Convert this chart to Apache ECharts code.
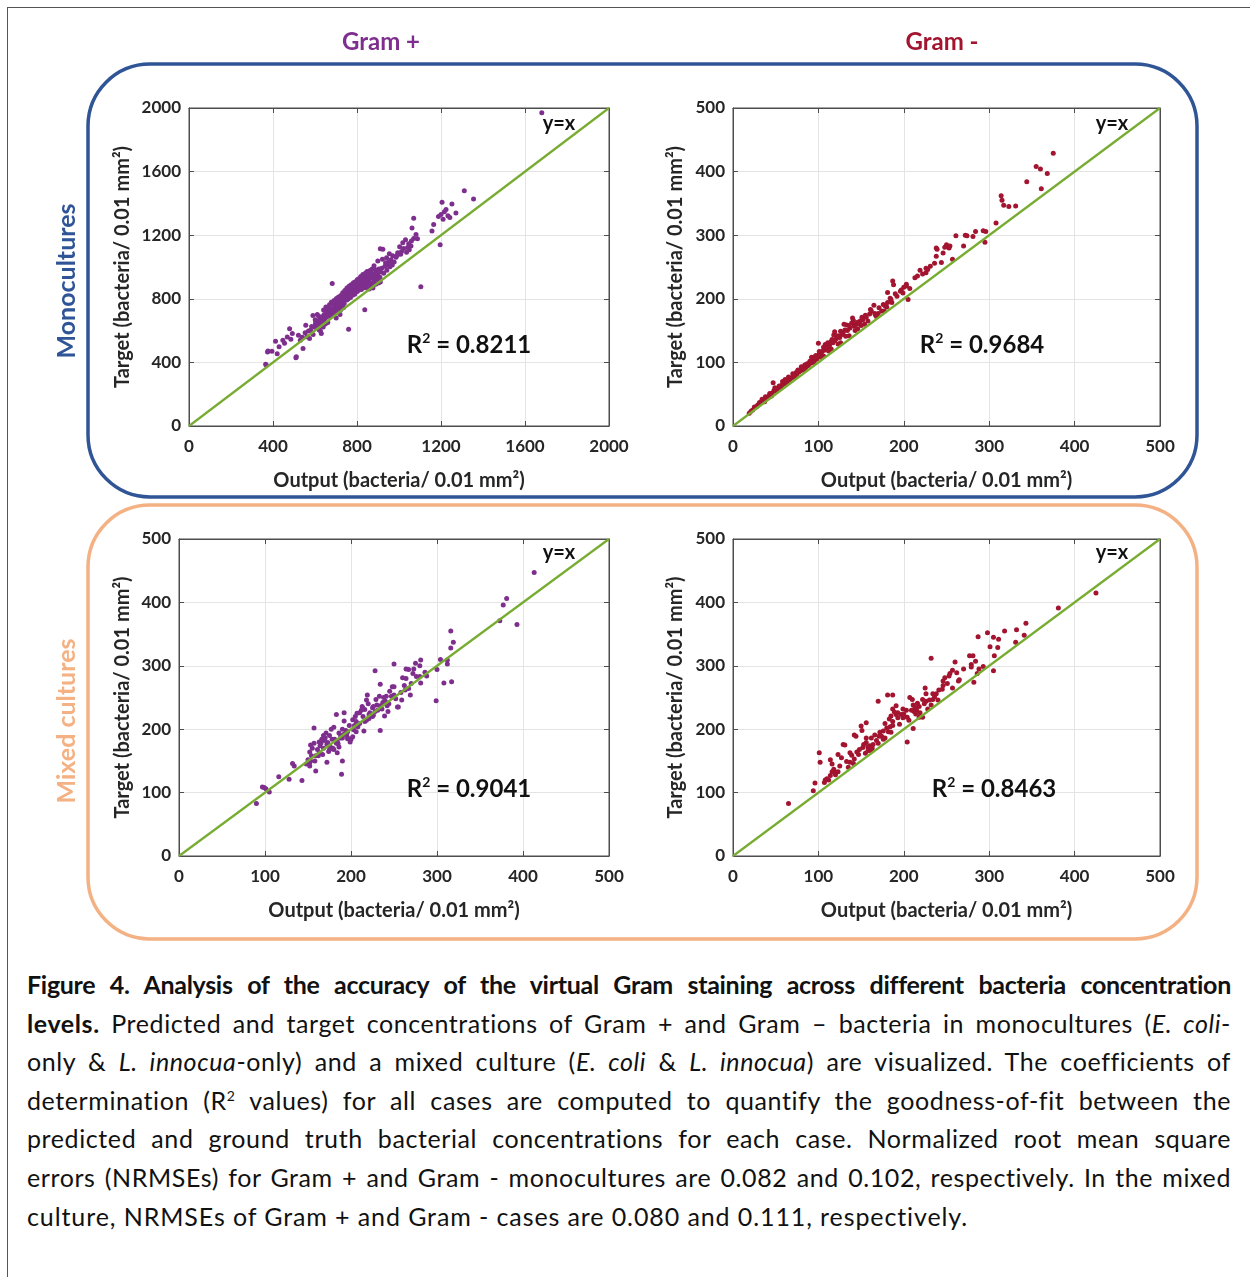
<!DOCTYPE html>
<html>
<head>
<meta charset="utf-8">
<script src="https://cdn.jsdelivr.net/npm/echarts@6/dist/echarts.min.js"></script>
<style>
  body { margin: 0; background: #fff; }
  #page { position: relative; width: 1250px; height: 1277px; overflow: hidden; }
  #frame { position: absolute; left: 7px; top: 7px; width: 1300px; height: 1300px; z-index: 2;
           pointer-events: none; border-left: 1.5px solid #555; border-top: 1.5px solid #555; }
  #chart { position: absolute; left: 0; top: 0; width: 1250px; height: 950px; }
  #caption { position: absolute; left: 27px; top: 965px; width: 1204px;
             font-family: Lato; font-size: 25px; line-height: 38.6px; color: #111; letter-spacing: 0.6px; }
  #caption div { text-align: justify; text-align-last: justify; white-space: nowrap; }
  #caption div.first { letter-spacing: -0.3px; }
  #caption div.last { text-align-last: left; letter-spacing: 0.9px; }
  #caption sup { font-size: 14px; line-height: 0; vertical-align: 9px; }
</style>
</head>
<body>
<div id="page">
  <div id="chart"></div>
  <div id="frame"></div>
  <div id="caption">
    <div class="first"><b>Figure 4. Analysis of the accuracy of the virtual Gram staining across different bacteria concentration</b></div>
    <div><b>levels.</b> Predicted and target concentrations of Gram + and Gram – bacteria in monocultures (<i>E. coli</i>-</div>
    <div>only &amp; <i>L. innocua</i>-only) and a mixed culture (<i>E. coli</i> &amp; <i>L. innocua</i>) are visualized. The coefficients of</div>
    <div>determination (R<sup>2</sup> values) for all cases are computed to quantify the goodness-of-fit between the</div>
    <div>predicted and ground truth bacterial concentrations for each case. Normalized root mean square</div>
    <div>errors (NRMSEs) for Gram + and Gram - monocultures are 0.082 and 0.102, respectively. In the mixed</div>
    <div class="last">culture, NRMSEs of Gram + and Gram - cases are 0.080 and 0.111, respectively.</div>
  </div>
</div>

<script type="text/javascript">
// [output, target] pairs
var gramPosMono = [
  [1680,1970],[1311,1479],[1355,1427],[1205,1407],[1252,1396],[1271,1340],[1224,1361],[1200,1330],[1216,1348],[1233,1322],[1188,1318],[1242,1312],[1210,1300],
  [1070,1307],[1062,1246],[1081,1205],[1070,1180],[1165,1267],[1157,1226],[1196,1140],[1104,876],
  [1018,1153],[1041,1122],[1057,1132],[994,1090],[970,1070],[923,1111],[911,1115],[1031,1171],[1049,1108],[1012,1098],[986,1062],[1003,1128],[962,1046],[941,1058],[954,1083],[977,1031],[991,1074],[1022,1117],[1046,1146],[1059,1163],[1088,1178],[1036,1093],[1008,1080],[968,1012],[948,1024],
  [933,1004],[918,992],[904,987],[927,961],[946,1011],[951,1032],[936,1026],[913,968],[898,951],[893,976],[884,986],[942,979],[957,1002],[962,1018],[889,941],[901,922],[909,936],[879,958],[868,946],[874,929],[866,966],[861,952],[851,939],[856,921],[846,931],[842,906],[836,951],[831,926],[824,902],[819,914],[814,889],[809,906],[806,881],[799,871],[796,892],[791,861],[786,876],[781,849],[776,866],[771,839],[764,831],[761,856],[754,819],[749,836],[746,811],[741,801],[736,822],[731,789],[726,806],[719,781],[714,762],[711,791],[704,771],[699,751],[694,736],[689,761],[686,741],[679,721],[676,702],[671,736],[664,711],[659,689],[656,721],[651,681],[644,701],[641,664],[636,689],[629,651],[624,671],[621,641],[616,659],[609,631],[604,654],[598,621],
  [871,899],[882,914],[892,961],[859,898],[852,881],[839,869],[829,882],[821,858],[801,846],[789,829],[779,822],[769,808],[758,799],[751,792],[739,771],[729,758],[722,753],[709,742],[701,726],[692,711],[681,699],[669,692],[841,962],[828,953],[818,941],[811,928],[802,921],[792,908],[783,901],[772,888],[762,879],[752,868],[742,852],[732,838],[723,821],[712,812],[702,802],[691,789],[862,978],[872,988],[848,972],[881,1008],[899,1038],[921,1048],[844,898],[834,882],[826,868],[816,861],[807,853],[797,848],[787,843],[777,831],[767,817],[757,806],[744,796],[734,779],[724,768],[716,774],[706,758],[696,744],[684,732],[674,716],[666,698],
  [682,897],[837,731],[760,608],[590,695],[611,702],[601,668],[479,612],[492,581],[447,539],[412,533],[376,471],[365,389],[511,435],[429,498],[543,487],[556,633],[574,550],[630,581],[368,384],[374,465],[509,430],[561,562],[539,558],[521,571],[579,602],[591,576],[619,606],[639,622],[661,651],[649,641],[626,598],[701,679],[719,702],[735,744],[869,879],[878,888],[889,891],[902,899],[911,906],[858,862],[876,868],[602,642],[584,626],[569,598],[553,586],[618,691],[641,729],[652,748],[661,741],[669,762],[678,778],[688,721],[698,714],[707,731],[721,728],[485,545],[455,520],[420,455],[395,470],[530,540],[468,560]
];

var gramNegMono = [
  [375,429],[355,408],[360,404],[368,397],[344,384],[361,373],[314,362],[315,355],[317,347],[323,345],[331,346],[308,319],[296,306],[295,289],[293,307],[284,306],[281,298],[274,299],[270,283],[272,300],[261,299],[253,280],[246,272],[238,280],[238,267],[244,257],[254,283],[257,262],[250,285],[228,246],[226,241],[216,236],[222,239],[213,233],[219,245],[226,248],[236,256],[239,278],[248,281],[231,251],[203,223],[200,218],[197,214],[205,199],[187,228],[181,210],[192,204],[181,194],[196,212],[190,208],[177,181],[165,190],[161,183],[203,220],[207,216],[199,209],[185,199],[174,181],[170,177],[167,174],[160,176],[156,171],[152,167],[149,165],[147,161],[144,160],[142,157],[139,162],[137,154],[134,150],[133,159],[129,147],[128,144],[125,139],[124,142],[121,137],[119,134],[119,148],[117,131],[115,133],[113,127],[112,125],[110,121],[109,123],[107,119],[106,124],[104,117],[103,114],[102,111],[101,113],[100,130],[99,109],[98,105],[97,111],[96,107],[95,103],[94,101],[93,106],[91,99],[90,102],[89,97],[88,95],[87,98],[86,94],[85,92],[84,96],[82,91],[81,88],[80,93],[79,87],[77,85],[76,88],[75,82],[74,84],[72,80],[71,78],[70,82],[69,76],[67,75],[66,72],[65,77],[64,71],[62,69],[61,68],[60,66],[59,67],[57,64],[56,62],[55,61],[54,63],[52,57],[51,59],[50,55],[48,56],[47,68],[46,52],[44,50],[43,51],[42,47],[40,45],[39,44],[38,46],[36,41],[35,40],[34,42],[32,36],[31,37],[29,33],[28,31],[26,29],[25,30],[23,25],[21,23],[19,20],
  [61,73],[66,74],[71,79],[76,86],[81,91],[86,97],[91,101],[96,109],[101,117],[111,131],[116,136],[121,142],[126,149],[131,151],[136,158],[141,166],[146,163],[151,171],[155,174],[162,181],[166,177],[115,121],[126,131],[136,142],[146,153],[154,160],[106,110],[95,99],[84,88],[73,77],[63,67],[53,57],[45,47],[37,38],[171,186],[176,191],[180,187],[186,194],[188,222],[184,201],[178,189],[168,172],[158,165],[150,158],[143,150],[132,141],[123,129],[112,118],[108,128],[103,108],[140,170],[130,160],[118,143],[92,108],[58,70],[49,60]
];

var gramPosMix = [
  [413,447],[381,406],[377,396],[373,371],[393,365],[316,355],[319,337],[316,328],[312,309],[312,303],[304,310],[300,294],[308,273],[317,275],[299,245],
  [281,309],[275,304],[267,294],[264,295],[272,288],[280,283],[281,273],[288,284],[260,281],[264,280],[262,269],[250,303],[250,267],[228,292],[234,271],[241,252],[250,254],[252,248],[255,235],[248,267],[269,254],[259,246],[254,235],[233,252],[229,247],[219,254],[218,246],[220,240],[213,236],[216,231],[210,226],[230,238],[225,234],[234,237],[237,242],[242,237],[239,221],[225,220],[221,223],[215,197],[234,198],[205,220],[202,215],[198,206],[192,226],[183,223],[192,213],[190,200],[188,190],[194,198],[198,185],[202,188],[200,184],[204,206],[180,203],[177,200],[171,194],[166,184],[169,182],[173,179],[175,190],[157,202],[157,178],[153,175],[155,170],[161,168],[163,163],[159,158],[152,164],[154,158],[150,152],[152,147],[152,142],[159,134],[172,148],[186,172],[184,163],[190,150],[189,129],[180,168],[175,168],[132,146],[134,142],[116,125],[128,121],[143,119],[97,109],[101,106],[105,101],[90,83],[99,108],
  [195,190],[188,186],[183,178],[178,184],[172,176],[168,170],[165,178],[170,186],[176,172],[162,158],[158,150],[186,194],[192,192],[196,196],[203,199],[206,212],[210,209],[214,220],[218,214],[222,226],[226,222],[231,230],[236,232],[240,244],[244,240],[247,252],[226,236],[212,230],[206,196],[199,180],[181,184],[164,174],[167,160],[174,165],[179,170],[185,177],[190,186],[148,145],[153,150],[163,180],[168,190],[207,225],[214,233],[221,217],[243,228],[263,262],[270,272],[276,283],[286,290],[280,300],[273,295],[258,258],[267,264],[245,260],[238,250],[228,228],[216,212],[208,204],[196,185],[184,181]
];

var gramNegMix = [
  [425,415],[381,391],[343,367],[332,357],[341,348],[318,355],[298,352],[305,345],[311,342],[301,330],[310,329],[306,316],[331,337],[305,292],[293,299],[287,346],
  [277,316],[281,316],[279,302],[284,307],[288,295],[282,274],[286,288],[279,298],
  [260,306],[257,293],[254,288],[248,281],[246,276],[246,269],[264,276],[257,265],[265,278],[232,312],[225,265],[226,256],[234,256],[238,256],[234,247],[222,247],[216,241],[207,250],[211,238],[213,235],[209,230],[215,230],[203,230],[199,232],[197,223],[191,237],[187,232],[191,223],[193,218],[199,218],[204,219],[218,219],[222,219],[211,201],[204,180],[193,226],[189,227],[185,221],[183,216],[187,212],[181,254],[187,254],[170,244],
  [178,209],[180,202],[176,197],[172,195],[171,189],[184,204],[187,206],[178,186],[174,189],[166,191],[156,210],[150,205],[151,198],[142,191],[144,189],[156,186],[162,186],[156,179],[160,174],[158,166],[162,166],[152,171],[148,168],[145,164],[139,159],[137,163],[142,153],[137,148],[129,176],[131,175],[123,160],[127,155],[133,149],[114,152],[116,145],[118,137],[120,132],[123,133],[116,133],[114,127],[110,122],[108,120],[107,116],[101,163],[102,148],[96,115],[94,103],[65,83],
  [212,228],[218,236],[224,240],[228,232],[214,224],[206,214],[200,224],[195,208],[182,196],[176,184],[168,182],[164,176],[158,172],[153,176],[147,160],[141,146],[135,140],[125,142],[120,128],[112,120],[219,226],[226,244],[230,246],[236,251],[241,262],[251,272],[253,284],[262,289],[270,295],[240,246],[232,238],[245,263],[210,247],[185,195],[170,178],[163,170],[155,162]
];

var axisMax = [2000, 500, 500, 500];
var axisStep = [400, 100, 100, 100];
var r2Labels = ['0.8211', '0.9684', '0.9041', '0.8463'];
var yNameGap = [56, 47, 46, 47];

var FONT = 'Lato';
var TXT = '#262626';
var AXC = '#4d4d4d';

function makeAxis(idx, isY, gap) {
  return {
    gridIndex: idx,
    type: 'value',
    min: 0,
    max: axisMax[idx],
    interval: axisStep[idx],
    name: isY ? 'Target (bacteria/ 0.01 mm\u00B2)' : 'Output (bacteria/ 0.01 mm\u00B2)',
    nameLocation: 'middle',
    nameGap: gap,
    nameTextStyle: { fontFamily: FONT, fontWeight: 'bold', fontSize: 20, color: TXT },
    axisLine: { show: true, onZero: false, lineStyle: { color: AXC, width: 1 } },
    axisTick: { show: true, inside: true, length: 5, lineStyle: { color: AXC } },
    axisLabel: {
      fontFamily: FONT, fontWeight: 'bold', fontSize: 17, color: TXT, margin: isY ? 8 : 12,
      formatter: function (v) { return String(v); }
    },
    splitLine: { show: true, lineStyle: { color: '#e4e4e4', width: 1 } }
  };
}

// top / right copies that only carry the inward ticks of the box
function mirrorAxis(idx, isY) {
  return {
    gridIndex: idx, type: 'value', min: 0, max: axisMax[idx], interval: axisStep[idx],
    position: isY ? 'right' : 'top',
    axisLine: { show: true, onZero: false, lineStyle: { color: AXC, width: 1 } },
    axisTick: { show: true, inside: true, length: 5, lineStyle: { color: AXC } },
    axisLabel: { show: false },
    splitLine: { show: false }
  };
}

function scatter(idx, data, color) {
  return {
    type: 'scatter', xAxisIndex: idx, yAxisIndex: idx,
    data: data, symbolSize: 5, itemStyle: { color: color, opacity: 1 }, z: 2
  };
}

function diag(idx) {
  return {
    type: 'line', xAxisIndex: idx, yAxisIndex: idx,
    data: [[0, 0], [axisMax[idx], axisMax[idx]]],
    showSymbol: false, lineStyle: { color: '#77AC30', width: 2.2 }, z: 3, silent: true
  };
}

function txt(x, y, text, size, color, extra) {
  var o = {
    type: 'text', x: x, y: y, z: 10,
    style: { text: text, fontFamily: FONT, fontWeight: 'bold', fontSize: size, fill: color,
             textAlign: 'center', textVerticalAlign: 'middle' }
  };
  if (extra) { for (var k in extra) o[k] = extra[k]; }
  return o;
}

function r2(x, y, val) {
  return {
    type: 'text', x: x, y: y, z: 10,
    style: {
      text: '{b|R}{s|2}{b| = ' + val + '}',
      textAlign: 'center', textVerticalAlign: 'middle',
      rich: {
        b: { fontFamily: FONT, fontWeight: 'bold', fontSize: 24, fill: '#111', lineHeight: 28 },
        s: { fontFamily: FONT, fontWeight: 'bold', fontSize: 14, fill: '#111', verticalAlign: 'top', lineHeight: 28 }
      }
    }
  };
}

var xAxes = [], yAxes = [];
for (var i = 0; i < 4; i++) {
  xAxes.push(makeAxis(i, false, 45));
  yAxes.push(makeAxis(i, true, yNameGap[i]));
}
for (var j = 0; j < 4; j++) {
  xAxes.push(mirrorAxis(j, false));
  yAxes.push(mirrorAxis(j, true));
}

var chart = echarts.init(document.getElementById('chart'));
chart.setOption({
  animation: false,
  backgroundColor: '#fff',
  grid: [
    { left: 189, top: 108, width: 420, height: 318, show: true, borderColor: AXC, borderWidth: 1 },
    { left: 733, top: 108, width: 427, height: 318, show: true, borderColor: AXC, borderWidth: 1 },
    { left: 179, top: 539, width: 430, height: 317, show: true, borderColor: AXC, borderWidth: 1 },
    { left: 733, top: 539, width: 427, height: 317, show: true, borderColor: AXC, borderWidth: 1 }
  ],
  xAxis: xAxes,
  yAxis: yAxes,
  series: [
    scatter(0, gramPosMono, '#7E2F8E'),
    scatter(1, gramNegMono, '#A2142F'),
    scatter(2, gramPosMix, '#7E2F8E'),
    scatter(3, gramNegMix, '#A2142F'),
    diag(0), diag(1), diag(2), diag(3)
  ],
  graphic: [
    { type: 'rect', z: 0, shape: { x: 88, y: 64, width: 1109, height: 433, r: 62 },
      style: { fill: 'none', stroke: '#2F5597', lineWidth: 3.5 } },
    { type: 'rect', z: 0, shape: { x: 88, y: 505, width: 1109, height: 434, r: 62 },
      style: { fill: 'none', stroke: '#F4B183', lineWidth: 3.5 } },
    txt(381, 42, 'Gram +', 24, '#7E2F8E'),
    txt(942, 42, 'Gram -', 24, '#A2142F'),
    txt(67, 281, 'Monocultures', 25, '#2F5597', { rotation: Math.PI / 2 }),
    txt(67, 721, 'Mixed cultures', 25, '#F4B183', { rotation: Math.PI / 2 }),
    txt(559, 124, 'y=x', 20, '#111'),
    txt(1112, 124, 'y=x', 20, '#111'),
    txt(559, 553, 'y=x', 20, '#111'),
    txt(1112, 553, 'y=x', 20, '#111'),
    r2(469, 345, r2Labels[0]),
    r2(982, 345, r2Labels[1]),
    r2(469, 789, r2Labels[2]),
    r2(994, 789, r2Labels[3])
  ]
});
</script>
</body>
</html>
